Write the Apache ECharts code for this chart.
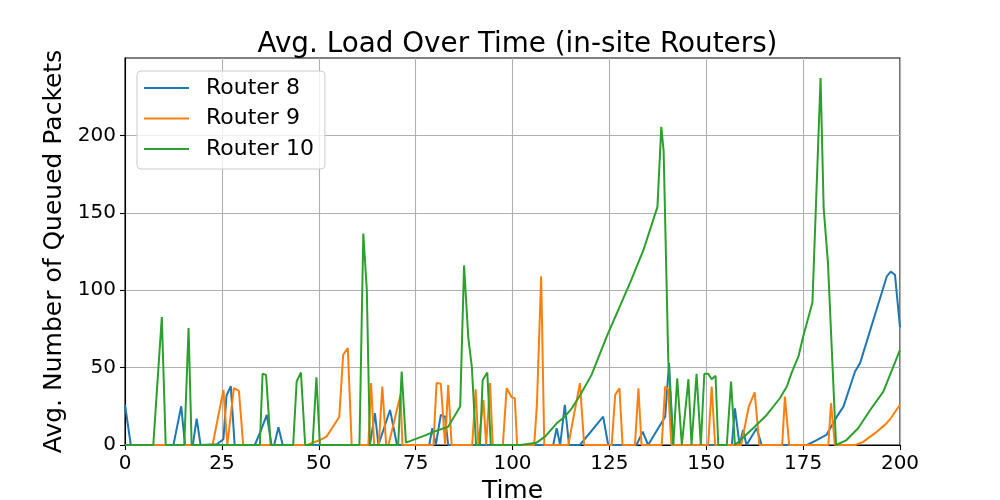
<!DOCTYPE html>
<html>
<head>
<meta charset="utf-8">
<script src="https://cdn.jsdelivr.net/npm/echarts@6/dist/echarts.min.js"></script>
<style>
html,body{margin:0;padding:0;background:#fff;}
#chart{width:1000px;height:500px;}
</style>
</head>
<body>
<div id="chart"></div>
<script>
const seriesNames = ['Router 8', 'Router 9', 'Router 10'];
const yTicks = [0, 50, 100, 150, 200];
const xTicks = [0, 25, 50, 75, 100, 125, 150, 175, 200];

const router8 = [[0,26],[1.5,0],[12.5,0],[14.5,25],[15.5,0],[17.5,0],[18.5,17],[19.5,0],[23.7,0.5],[25.4,3.7],[26.2,32],[27.3,38],[28.3,0],[33.5,0],[35,9],[36.6,19.4],[37.8,0],[38.5,0],[39.6,11.4],[40.7,0],[63.2,0],[64.5,20.5],[65.4,0],[68.4,22.6],[70.2,0],[78.5,0],[79.3,10.8],[80.2,0],[81.5,19.4],[82.6,18.3],[83.4,0],[110.5,0],[111.4,10.8],[112.3,0],[113.5,25.9],[114.6,0],[117.4,0],[123.4,18.3],[124.7,0],[132,0],[133.6,8.6],[135,0],[139.4,18.3],[140.4,53],[141.5,0],[156.6,0],[157.4,23.7],[158.6,0],[159.5,9.7],[160.4,0],[163,10.8],[164.3,0],[176,0],[178.5,3.2],[181,6.5],[183.7,18.3],[185.4,24.8],[188.4,47.5],[189.7,52.9],[196.6,109],[197.6,112],[198.7,110],[200,76]];

const router9 = [[0,0],[22.6,0],[25.4,35.6],[26.4,0],[28.1,36.7],[29.4,35],[30.5,0],[47,0],[50.3,3.2],[52,5.4],[53.8,12.3],[55.3,18.3],[56.3,58.3],[57.5,62.6],[58.5,0],[62.8,0],[63.5,40],[64.3,0],[65.5,0],[66.4,37.8],[67.4,0],[68,0],[71.1,32.4],[71.6,0],[79.6,0],[80.4,40],[81.5,39.5],[82.6,0],[83.4,38.8],[84.3,0],[89.6,0],[90.5,36],[91.2,0],[92.5,29],[93.2,0],[94.2,40],[94.9,0],[97.5,0],[98.5,36.7],[99.8,30.9],[100.6,30.2],[101.2,0],[105.6,0],[106.3,26],[107.4,109],[108.2,0],[114.4,0],[117.4,40],[118.5,0],[125.6,0],[126.5,32.4],[127.6,36.7],[128.4,0],[131.6,0],[132.5,36.7],[133.3,0],[138.5,0],[139.4,37.8],[140.2,35.6],[141,0],[150.5,0],[151.4,37.8],[152.3,0],[159,0],[161,25],[162.5,34],[163.7,0],[169.6,0],[170.3,31.3],[171.4,0],[181.5,0],[182.2,27],[183.2,0],[188.5,0],[190.5,2],[192.3,5.4],[194,8.5],[196.1,13],[197.4,16.5],[200,26]];

const router10 = [[0,0],[7.3,0],[9.5,82.6],[10.5,0],[15.3,0],[16.4,75.5],[17.2,0],[34.8,0],[35.5,46],[36.4,45.3],[37.6,0],[43.4,0],[44.3,41],[45.4,46.8],[46.5,0],[48.4,0],[49.4,43.8],[50.3,0],[60.5,0],[61.5,136.6],[62.4,100.3],[63.2,0],[70.5,0],[71.4,47.5],[72.5,1.5],[77.8,6.5],[79.6,8.5],[83.4,11.8],[86.5,24.8],[87.5,116],[88.6,69],[89.5,50.7],[90.6,0],[91.6,0],[92.3,42],[93.5,46.8],[94.4,0],[102,0],[106.2,1.5],[108.4,5.4],[111.4,14],[113.5,18.3],[115.3,23.7],[117.4,32],[120.4,45.3],[124.3,70],[127.7,89.5],[130.5,105.7],[133.8,126],[137.4,153.8],[138.4,205.5],[139,190],[140.2,55],[141.5,0],[142.5,43],[143.7,0],[145.4,42.5],[146.2,0],[147.5,46],[148.6,0],[149.5,46],[150.5,46],[151.4,42.5],[152.4,44.7],[153.1,0],[155.3,0],[156.4,41],[157.4,0],[162.1,10.8],[165.6,19.4],[169,30.2],[170.8,37.8],[172,46.4],[173.8,57.2],[175,70],[177.4,92],[179.5,237],[180.3,153],[181.4,118],[183.5,0],[186.2,3.2],[189.2,10.8],[192.3,22.6],[195.7,34.5],[200,61.5]];

const colors = ['#1f77b4', '#ff7f0e', '#2ca02c'];
const allData = [router8, router9, router10];
const FONT = 'DejaVu Sans';

const chart = echarts.init(document.getElementById('chart'), null, {renderer: 'canvas'});
chart.setOption({
  animation: false,
  backgroundColor: '#ffffff',
  title: {
    text: 'Avg. Load Over Time (in-site Routers)',
    left: 512.5,
    textAlign: 'center',
    top: 26,
    textStyle: {fontFamily: FONT, fontSize: 27.8, fontWeight: 'normal', color: '#000'}
  },
  legend: {
    orient: 'vertical',
    left: 137,
    top: 71,
    data: seriesNames.map(n => ({name: n, icon: 'rect'})),
    itemWidth: 45,
    itemHeight: 2.2,
    itemGap: 8.5,
    padding: [6, 11, 9, 7],
    backgroundColor: 'rgba(255,255,255,0.8)',
    borderColor: '#cccccc',
    borderWidth: 1,
    borderRadius: 4,
    textStyle: {fontFamily: FONT, fontSize: 22, color: '#000', padding: [0, 0, 0, 12]}
  },
  grid: {
    left: 125, right: 100, top: 58, bottom: 55,
    outerBoundsMode: 'none',
    containLabel: false,
    show: true, borderColor: '#000', borderWidth: 1.1, backgroundColor: 'transparent'
  },
  xAxis: {
    type: 'value',
    min: 0, max: 200, interval: 25,
    name: 'Time',
    nameLocation: 'middle',
    nameGap: 30,
    nameTextStyle: {fontFamily: FONT, fontSize: 25, color: '#000'},
    axisLine: {show: true, onZero: false, lineStyle: {color: '#000', width: 1.1}},
    axisTick: {show: true, inside: false, length: 5, lineStyle: {color: '#000', width: 1.1}},
    axisLabel: {fontFamily: FONT, fontSize: 20, color: '#000', margin: 9},
    splitLine: {show: true, lineStyle: {color: '#b0b0b0', width: 1.1}}
  },
  yAxis: {
    type: 'value',
    min: 0, max: 250, interval: 50,
    name: 'Avg. Number of Queued Packets',
    nameLocation: 'middle',
    nameGap: 46,
    nameTextStyle: {fontFamily: FONT, fontSize: 25, color: '#000'},
    axisLine: {show: true, onZero: false, lineStyle: {color: '#000', width: 1.1}},
    axisTick: {show: true, inside: false, length: 5, lineStyle: {color: '#000', width: 1.1}, customValues: yTicks},
    axisLabel: {fontFamily: FONT, fontSize: 20, color: '#000', margin: 9, customValues: yTicks},
    splitLine: {show: true, lineStyle: {color: '#b0b0b0', width: 1.1}}
  },
  series: seriesNames.map((name, i) => ({
    name: name,
    type: 'line',
    data: allData[i],
    symbol: 'none',
    showSymbol: false,
    lineStyle: {color: colors[i], width: 2},
    itemStyle: {color: colors[i]},
    z: 2 + i
  }))
});
</script>
</body>
</html>
